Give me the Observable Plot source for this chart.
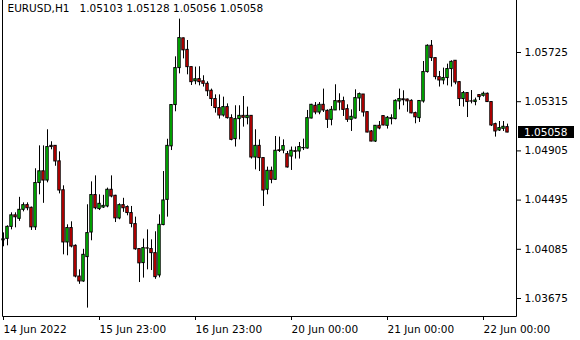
<!DOCTYPE html>
<html><head><meta charset="utf-8">
<script src="https://cdn.jsdelivr.net/npm/d3@7"></script>
<script src="https://cdn.jsdelivr.net/npm/@observablehq/plot@0.6"></script>
<style>html,body{margin:0;padding:0;background:#fff;}</style>
</head><body><div id="chart"></div>
<script>
const symbol = "EURUSD";
const period = "H1";

const opens = [1.04160,1.04172,1.04272,1.04368,1.04339,1.04414,1.04453,1.04431,1.04268,1.04637,
1.04735,1.04658,1.04947,1.04947,1.04818,1.04577,1.04142,1.04262,1.04114,1.03858,
1.03817,1.04020,1.04225,1.04537,1.04420,1.04433,1.04442,1.04581,1.04531,1.04342,
1.04453,1.04437,1.04387,1.04295,1.04087,1.03970,1.04093,1.04087,1.04053,1.03867,
1.04287,1.04497,1.04943,1.05287,1.05595,1.05843,1.05747,1.05603,1.05485,1.05503,
1.05485,1.05464,1.05406,1.05337,1.05262,1.05200,1.05270,1.05178,1.05003,1.05170,
1.05197,1.05178,1.05197,1.04850,1.04947,1.04845,1.04581,1.04739,1.04664,1.04910,
1.04908,1.04878,1.04858,1.04903,1.04900,1.04927,1.04925,1.05175,1.05281,1.05225,
1.05289,1.05239,1.05164,1.05242,1.05320,1.05320,1.05253,1.05164,1.05175,1.05342,
1.05375,1.05228,1.05067,1.04983,1.05114,1.05195,1.05114,1.05170,1.05170,1.05317,
1.05335,1.05333,1.05322,1.05220,1.05178,1.05317,1.05562,1.05781,1.05678,1.05520,
1.05492,1.05512,1.05587,1.05656,1.05478,1.05337,1.05387,1.05318,1.05312,1.05370,
1.05364,1.05381,1.05312,1.05128,1.05075,1.05089,1.05103];

const highs = [1.04222,1.04281,1.04389,1.04389,1.04518,1.04472,1.04472,1.04437,1.04756,1.04947,
1.04947,1.05081,1.04981,1.04947,1.04897,1.04614,1.04289,1.04314,1.04122,1.03914,
1.04085,1.04456,1.04647,1.04697,1.04539,1.04535,1.04595,1.04697,1.04535,1.04464,
1.04510,1.04447,1.04442,1.04353,1.04087,1.04170,1.04247,1.04164,1.04231,1.04372,
1.04733,1.05002,1.05289,1.05689,1.06003,1.05845,1.05825,1.05603,1.05603,1.05606,
1.05531,1.05481,1.05420,1.05372,1.05372,1.05353,1.05297,1.05206,1.05281,1.05281,
1.05358,1.05270,1.05197,1.05081,1.04997,1.04845,1.04770,1.04770,1.05025,1.05020,
1.04997,1.04900,1.04937,1.04937,1.04975,1.05003,1.05242,1.05293,1.05308,1.05308,
1.05420,1.05247,1.05275,1.05456,1.05381,1.05353,1.05289,1.05247,1.05414,1.05387,
1.05375,1.05228,1.05075,1.05114,1.05150,1.05195,1.05192,1.05206,1.05331,1.05420,
1.05406,1.05337,1.05331,1.05228,1.05322,1.05650,1.05789,1.05825,1.05678,1.05567,
1.05595,1.05628,1.05656,1.05656,1.05483,1.05400,1.05387,1.05408,1.05345,1.05370,
1.05395,1.05387,1.05312,1.05136,1.05150,1.05150,1.05128];

const lows = [1.04106,1.04114,1.04247,1.04264,1.04318,1.04397,1.04406,1.04242,1.04242,1.04539,
1.04468,1.04639,1.04914,1.04777,1.04547,1.04039,1.04031,1.04097,1.03847,1.03793,
1.03810,1.03595,1.04156,1.04414,1.04408,1.04425,1.04431,1.04514,1.04308,1.04331,
1.04393,1.04364,1.04264,1.04077,1.03808,1.03845,1.03914,1.03908,1.03835,1.03847,
1.04281,1.04353,1.04908,1.05231,1.05547,1.05672,1.05539,1.05450,1.05456,1.05447,
1.05437,1.05358,1.05275,1.05220,1.05170,1.05187,1.05170,1.04989,1.04937,1.04997,
1.05103,1.05122,1.04837,1.04747,1.04733,1.04442,1.04539,1.04631,1.04660,1.04892,
1.04881,1.04762,1.04742,1.04837,1.04837,1.04908,1.04920,1.05172,1.05206,1.05206,
1.05225,1.05092,1.05114,1.05242,1.05239,1.05192,1.05142,1.05067,1.05170,1.05233,
1.05187,1.05056,1.04981,1.04975,1.05081,1.05114,1.05087,1.05122,1.05164,1.05247,
1.05281,1.05227,1.05214,1.05131,1.05142,1.05303,1.05553,1.05650,1.05497,1.05437,
1.05456,1.05447,1.05437,1.05456,1.05275,1.05270,1.05183,1.05297,1.05281,1.05325,
1.05353,1.05308,1.05108,1.05020,1.05067,1.05067,1.05056];

const closes = [1.04168,1.04272,1.04368,1.04352,1.04414,1.04453,1.04427,1.04268,1.04637,1.04735,
1.04658,1.04937,1.04937,1.04817,1.04575,1.04142,1.04262,1.04108,1.03858,1.03817,
1.04039,1.04220,1.04537,1.04427,1.04464,1.04447,1.04581,1.04525,1.04343,1.04453,
1.04427,1.04387,1.04297,1.04085,1.03968,1.04095,1.04091,1.04053,1.03853,1.04289,
1.04492,1.04947,1.05287,1.05595,1.05845,1.05743,1.05603,1.05478,1.05502,1.05478,
1.05464,1.05402,1.05337,1.05262,1.05200,1.05270,1.05178,1.04997,1.05170,1.05197,
1.05181,1.05197,1.04850,1.04947,1.04845,1.04575,1.04739,1.04664,1.04906,1.04904,
1.04945,1.04767,1.04906,1.04897,1.04937,1.04929,1.05178,1.05289,1.05225,1.05289,
1.05242,1.05164,1.05247,1.05320,1.05308,1.05247,1.05164,1.05189,1.05345,1.05378,
1.05225,1.05058,1.04983,1.05114,1.05092,1.05117,1.05181,1.05178,1.05322,1.05337,
1.05327,1.05318,1.05218,1.05185,1.05321,1.05562,1.05781,1.05678,1.05520,1.05492,
1.05512,1.05587,1.05647,1.05475,1.05337,1.05387,1.05312,1.05316,1.05325,1.05353,
1.05381,1.05312,1.05117,1.05067,1.05095,1.05106,1.05058];

const yTicks = [1.03675, 1.04085, 1.04495, 1.04905, 1.05315, 1.05725];
const xTickBars = [0, 24, 48, 72, 96, 120];
const xTickLabels = ["14 Jun 2022", "15 Jun 23:00", "16 Jun 23:00", "20 Jun 00:00", "21 Jun 00:00", "22 Jun 00:00"];

const bars = opens.map((o, i) => ({i, open: o, high: highs[i], low: lows[i], close: closes[i]}));
const up = bars.filter(d => d.close >= d.open);
const down = bars.filter(d => d.close < d.open);
const last = bars[bars.length - 1];
const fmt = d3.format(".5f");
const labelMap = new Map(xTickBars.map((b, k) => [b, xTickLabels[k]]));
const header = `${symbol},${period}\u00a0\u00a0 ${fmt(last.open)} ${fmt(last.high)} ${fmt(last.low)} ${fmt(last.close)}`;

const GREEN = "#00e000", RED = "#f00000";
const FONT = "DejaVu Sans";
const FS = 10.5;

function overlay(...args) {
  const scales = args.find(a => a && typeof a.y === "function");
  const dim = args.find(a => a && a.width !== undefined && a.marginLeft !== undefined);
  const g = d3.create("svg:g");
  const l = dim.marginLeft + 0.5, r = dim.width - dim.marginRight + 0.5, b = dim.height - dim.marginBottom + 0.5;
  const lines = g.append("g").attr("stroke", "black").attr("stroke-width", 1);
  lines.append("line").attr("x1", l).attr("x2", l).attr("y1", 0).attr("y2", b);
  lines.append("line").attr("x1", r).attr("x2", r).attr("y1", 0).attr("y2", b);
  lines.append("line").attr("x1", l).attr("x2", r).attr("y1", b).attr("y2", b);
  const yc = Math.round(scales.y(last.close));
  g.append("rect").attr("x", r + 1.5).attr("y", yc - 6).attr("width", 56).attr("height", 12).attr("fill", "black");
  g.append("text").attr("x", r + 7.5).attr("y", yc).attr("dy", "0.36em")
    .attr("text-anchor", "start")
    .attr("fill", "white").attr("font-size", FS).attr("font-family", FONT)
    .text(fmt(last.close));
  return g.node();
}

const chart = Plot.plot({
  width: 580,
  height: 340,
  marginLeft: 2,
  marginRight: 64,
  marginTop: 0,
  marginBottom: 24,
  style: {fontFamily: FONT, fontSize: FS + "px", background: "white", color: "black"},
  x: {domain: [-0.25, 128.25], axis: null},
  y: {domain: [1.03675, 1.05725], range: [298, 52], axis: null},
  marks: [
    Plot.ruleX(bars, {x: "i", y1: "low", y2: "high", stroke: "black", strokeWidth: 1}),
    Plot.rect(up, {x1: d => d.i - 0.3, x2: d => d.i + 0.3, y1: "open", y2: "close", fill: GREEN, stroke: "black", strokeWidth: 1}),
    Plot.rect(down, {x1: d => d.i - 0.3, x2: d => d.i + 0.3, y1: "open", y2: "close", fill: RED, stroke: "black", strokeWidth: 1}),
    Plot.axisY({anchor: "right", ticks: yTicks, tickFormat: fmt, tickSize: 4, tickPadding: 4, fontSize: FS, label: null}),
    Plot.axisX({anchor: "bottom", ticks: xTickBars, tickFormat: d => labelMap.get(d), tickSize: 4, tickPadding: 5, textAnchor: "start", fontSize: FS, label: null}),
    Plot.text([header], {frameAnchor: "top-left", dx: 5, dy: 4, textAnchor: "start", lineAnchor: "top", fill: "black", fontSize: FS}),
    overlay
  ]
});
document.getElementById("chart").appendChild(chart);
</script>
</body></html>
